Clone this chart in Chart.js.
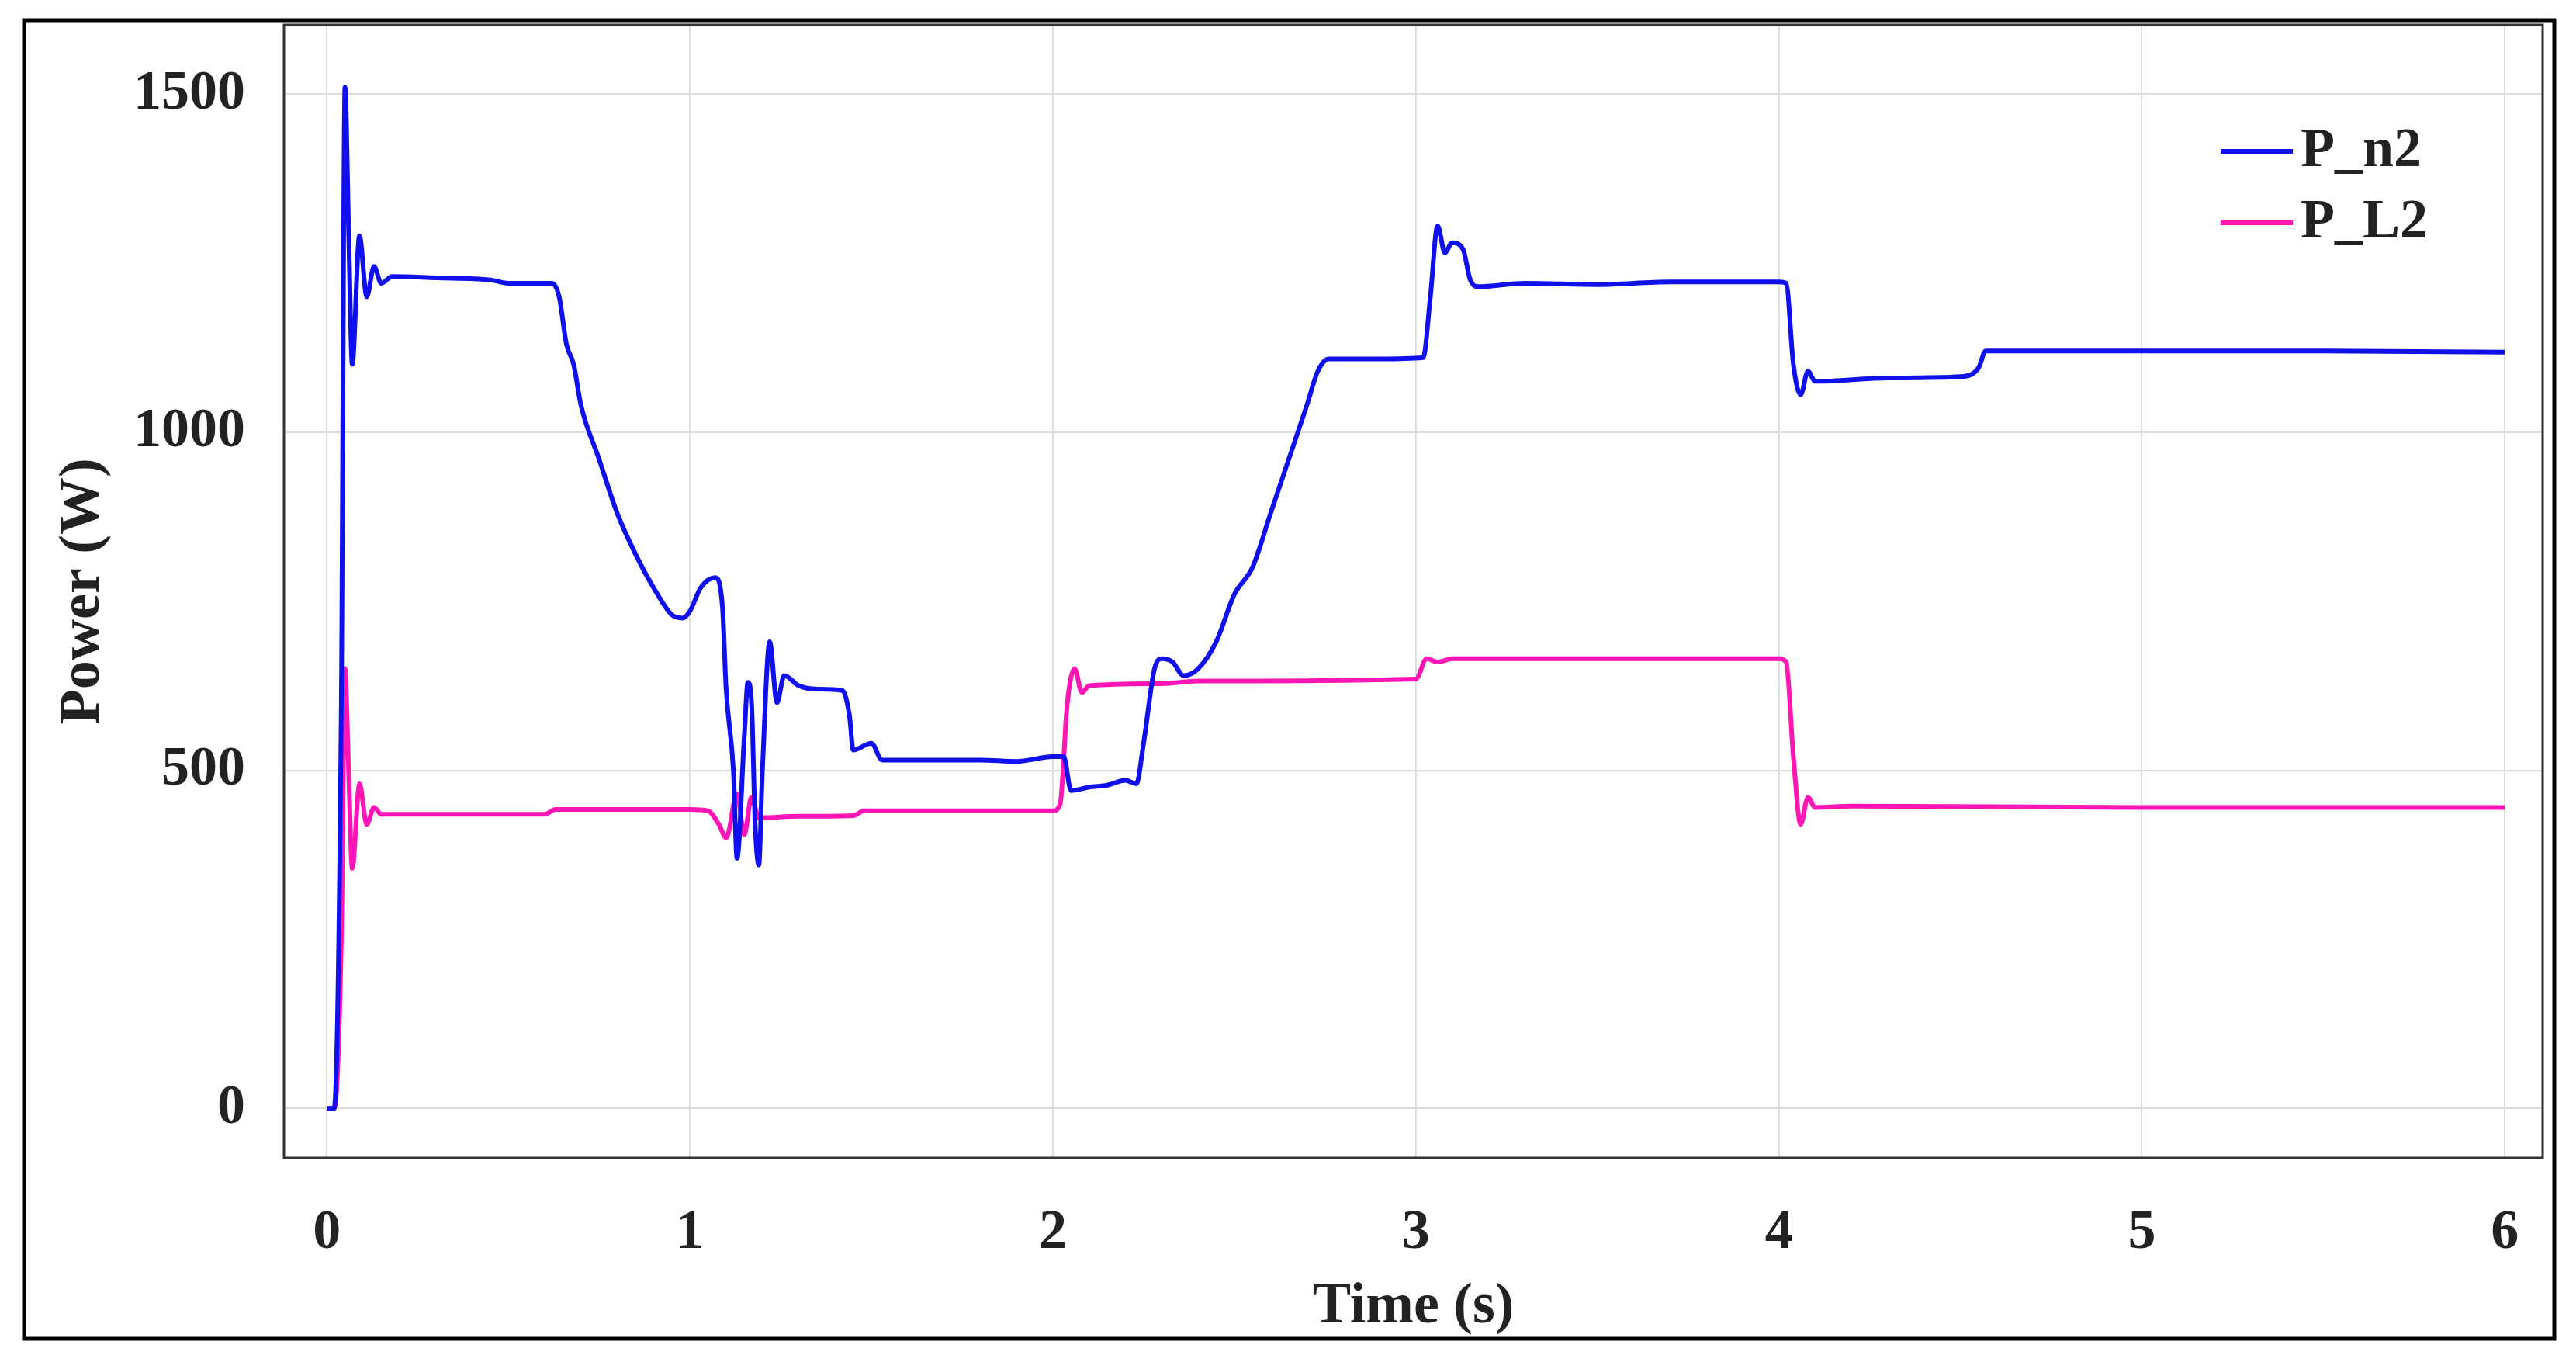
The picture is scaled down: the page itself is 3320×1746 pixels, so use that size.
<!DOCTYPE html>
<html><head><meta charset="utf-8">
<script src="https://cdn.jsdelivr.net/npm/chart.js@4"></script>
<style>html,body{margin:0;padding:0;background:#fff}</style>
</head><body>
<canvas id="c" width="3320" height="1746"></canvas>
<script>
const tN2 = [0,0.02,0.04,0.05,0.06,0.07,0.09,0.11,0.13,0.15,0.18,0.3,0.45,0.5,0.62,0.64,0.66,0.68,0.7,0.75,0.8,0.85,0.9,0.95,0.98,1.0,1.03,1.07,1.09,1.1,1.12,1.13,1.15,1.16,1.17,1.18,1.19,1.2,1.22,1.24,1.26,1.3,1.35,1.42,1.44,1.45,1.5,1.53,1.6,1.8,1.9,2.0,2.03,2.05,2.1,2.15,2.2,2.23,2.25,2.28,2.3,2.33,2.36,2.4,2.45,2.5,2.55,2.6,2.65,2.7,2.73,2.76,2.9,3.02,3.04,3.06,3.08,3.1,3.13,3.15,3.17,3.3,3.5,3.7,4.0,4.02,4.04,4.06,4.08,4.1,4.3,4.5,4.55,4.57,4.6,5.0,5.5,6.0];
const pN2 = [0,0,600,1510,1300,1100,1290,1200,1245,1220,1230,1228,1225,1220,1220,1200,1130,1100,1040,960,880,820,770,730,725,735,770,785,740,620,500,370,550,630,600,420,360,500,690,600,640,625,620,618,580,530,540,515,515,515,513,520,520,470,475,478,485,480,540,650,665,660,640,650,690,760,800,880,960,1040,1090,1108,1108,1110,1200,1305,1265,1280,1270,1225,1215,1220,1218,1222,1222,1220,1100,1055,1090,1075,1080,1082,1095,1120,1120,1120,1120,1118];
const tL2 = [0,0.02,0.04,0.05,0.06,0.07,0.09,0.11,0.13,0.15,0.2,0.6,0.63,1.0,1.05,1.08,1.1,1.13,1.15,1.17,1.19,1.3,1.45,1.48,2.0,2.02,2.04,2.06,2.08,2.1,2.3,2.4,3.0,3.03,3.06,3.1,4.0,4.02,4.04,4.06,4.08,4.1,4.2,5.0,6.0];
const pL2 = [0,0,250,650,500,355,480,420,445,435,435,435,442,442,440,420,400,465,405,460,430,432,433,440,440,450,600,650,615,625,628,632,635,665,660,665,665,660,520,420,460,445,447,445,445];
const seriesNames = ['P_n2','P_L2'];
const xTicks = [0,1,2,3,4,5,6];
const yTicks = [0,500,1000,1500];
const xTitle = 'Time (s)', yTitle = 'Power (W)';
const colors = ['#1010ee','#ff16b4'];
const FONT = 'bold 72px "Liberation Serif"';

const deco = {
  id:'deco',
  afterDraw(ch){
    const c=ch.ctx, a=ch.chartArea;
    c.save();
    c.strokeStyle='#333'; c.lineWidth=3;
    c.strokeRect(a.left,a.top,a.right-a.left,a.bottom-a.top);
    c.strokeStyle='#000'; c.lineWidth=5;
    c.strokeRect(31,26,3261,1699);
    c.fillStyle='#222'; c.font='bold 74px "Liberation Serif"';
    c.textAlign='center'; c.textBaseline='middle';
    c.fillText(xTitle,(a.left+a.right)/2,1685);
    c.translate(108,(a.top+a.bottom)/2); c.rotate(-Math.PI/2);
    c.fillText(yTitle,0,0);
    c.restore();
    c.save();
    c.font=FONT; c.textBaseline='middle'; c.textAlign='left';
    seriesNames.forEach((n,i)=>{
      const y=195+i*92;
      c.strokeStyle=colors[i]; c.lineWidth=6;
      c.beginPath(); c.moveTo(2862,y); c.lineTo(2955,y); c.stroke();
      c.fillStyle='#222'; c.fillText(n,2965,y);
    });
    c.restore();
  }
};

new Chart(document.getElementById('c'),{
  type:'line',
  data:{datasets:[
    {label:seriesNames[0],data:tN2.map((t,i)=>({x:t,y:pN2[i]})),borderColor:colors[0],borderWidth:6,pointRadius:0,tension:0.3,cubicInterpolationMode:'monotone'},
    {label:seriesNames[1],data:tL2.map((t,i)=>({x:t,y:pL2[i]})),borderColor:colors[1],borderWidth:6,pointRadius:0,tension:0.3,cubicInterpolationMode:'monotone'}
  ]},
  options:{
    responsive:false,animation:false,
    layout:{autoPadding:false,padding:{top:32,right:43,left:0,bottom:0}},
    plugins:{legend:{display:false},tooltip:{enabled:false}},
    scales:{
      x:{type:'linear',min:-0.118,max:6.104,
        afterBuildTicks(s){s.ticks=xTicks.map(v=>({value:v}));},
        afterFit(s){s.height=254;s.paddingLeft=0;s.paddingRight=0;},
        grid:{color:'#dcdcdc',lineWidth:2,drawTicks:false},border:{display:false},
        ticks:{font:{family:'Liberation Serif',size:72,weight:'bold'},color:'#222',padding:54,callback:v=>String(v)}},
      y:{min:-73,max:1602,
        afterBuildTicks(s){s.ticks=yTicks.map(v=>({value:v}));},
        afterFit(s){s.width=366;s.paddingTop=0;s.paddingBottom=0;},
        grid:{color:'#dcdcdc',lineWidth:2,drawTicks:false},border:{display:false},
        ticks:{font:{family:'Liberation Serif',size:72,weight:'bold'},color:'#222',padding:50,callback:v=>String(v)}}
    }
  },
  plugins:[deco]
});
</script>
</body></html>
